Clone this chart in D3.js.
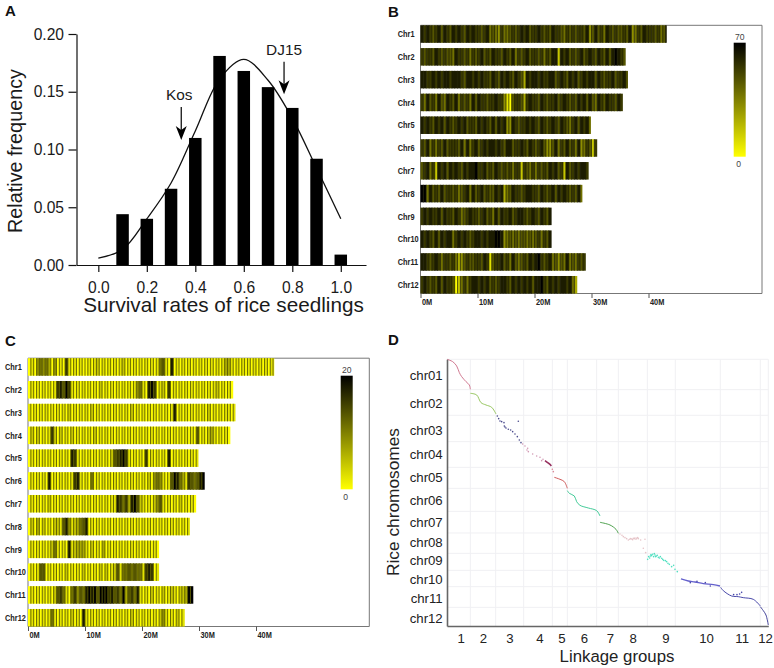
<!DOCTYPE html>
<html><head><meta charset="utf-8">
<script src="https://cdn.jsdelivr.net/npm/d3@7"></script>
<style>
html,body{margin:0;padding:0;background:#fff}
svg{display:block}
text{font-family:"Liberation Sans",Arial,sans-serif}
.nar{font-weight:700}
.soft{filter:blur(0.35px)}
</style></head><body>
<svg id="c" width="774" height="668"></svg>
<script>
// Panel A
const rateBins=[0.1,0.2,0.3,0.4,0.5,0.6,0.7,0.8,0.9,1.0];
const rateFreq=[0.044,0.040,0.066,0.110,0.181,0.168,0.154,0.136,0.092,0.009];
const curveX=[0,0.1,0.2,0.3,0.4,0.5,0.6,0.7,0.8,0.9,1.0];
const curveY=[0.006,0.0135,0.040,0.071,0.116,0.161,0.178,0.160,0.127,0.084,0.040];
const arrowsA=[{name:"Kos",x:0.342,top:0.1368,tip:0.1082},{name:"DJ15",x:0.766,top:0.176,tip:0.1478}];

// Panels B, C: chromosomes and 0.5 Mb density bins (digit 0 = low ... 9 = high)
const chrNames=["Chr1","Chr2","Chr3","Chr4","Chr5","Chr6","Chr7","Chr8","Chr9","Chr10","Chr11","Chr12"];
const chrLen=[43.2,36,36.4,35.5,29.9,31.2,29.6,28.4,23,23.2,29,27.5];
const binsB=[
"8787678687 6878768787 7678565475 5676787867 7876768776 5767677684 6867587676 6768457687 7767568",
"7677687676 6587767576 7867687768 7685767867 7675768828 7867678678 7687686898 76",
"8877878788 7888768878 7877687687 8768763878 8787788678 7687867878 8687677867 786",
"7586758658 7685767586 8776778774 1067763787 7687677867 8767687868 6587687768 7",
"8787687868 7678786776 8787686878 4487677878 7687678768 7657868785",
"7685757686 7776858578 6787887876 8867787687 6786446857 6867584576 27",
"6785728786 8787687889 7786768767 6757727657 5767687867 286787887",
"9958676867 7675678586 7867668783 5687767887 7687678687 8767685",
"7878778687 7687567877 6786758687 7867887678 768768",
"8787686878 8578787678 8787889984 5656566565 675768",
"8876787577 6753467667 7687167786 7586567687 8976785646 58565767",
"7876768687 7602575788 7878676788 7687878786 8897687878 87853"];
const binsC=[
"0104545304 0107101010 0101201010 1012010101 0101015610 8010101010 1010101013 3101010101 0101010",
"0101010101 7869710101 0101020101 0101010145 1089701207 0101010101 0101012010 10",
"1010101010 1010201010 1020101010 1010102010 1010101010 1801010101 0102010101 101",
"0202010172 0201020101 0102010101 0101010101 0101010101 0101010106 0102310101 0",
"0101010101 0101087101 0101010102 6789710101 0701010108 0101010101",
"0101010801 0101017810 1050101010 1010101010 1020454101 6985317656 89",
"0101010201 0101010101 0101010101 1875738962 1010246101 010201010",
"0203020102 2168412356 8010101010 1010101010 1010101010 1010101",
"0101010125 1010812333 1020103010 1010101010 101010",
"0101660101 0102010102 0101020201 2615565655 178701",
"0101010102 6751057465 8989699978 6759367581 0102010201 21022399",
"0101010151 0101020108 1010101010 1010102010 1010102410 10201"];
const mbTicks=[0,10,20,30,40];

// Panel D: synteny positions (linkage map position, physical position)
const lgBounds=[0,70,146,230,316,361,449,514,601,685,820,940,964];
const lgTicks=[41,108,187,277,343,411,489,557,655,777,884,954];
const chrBounds=[0,91,168,247,324,387,456,521,582,633,682,744,800];
const chrTicks=[47,132,212,285,354,424,490,550,604,660,718,778];
const chrLabels=["chr01","chr02","chr03","chr04","chr05","chr06","chr07","chr08","chr09","chr10","chr11","chr12"];
const syn01=[[0,0],[17,7],[29,20],[37,40],[44,52],[57,67],[67,77],[70,90]];
const syn02=[[70,102],[89,107],[102,130],[117,137],[134,144],[147,164]];
const syn03=[[151,170],[155,178],[159,185],[164,187],[171,190],[172,200],[174,203],[177,206],[184,210],[191,212],[197,217],[204,224],[211,232],[217,242],[222,250],[214,186]];
const syn04a=[[227,254],[234,260],[242,267],[240,272],[244,277],[257,284],[269,290],[279,294],[284,304],[288,300]];
const syn04b=[[294,304],[302,310],[309,315],[313,320]];
const syn04c=[[316,330],[319,337]];
const syn05=[[322,354],[339,360],[352,367],[361,387]];
const syn06=[[361,394],[367,402],[382,410],[389,427],[399,438],[424,446],[449,454],[459,470]];
const syn07=[[459,489],[489,497],[507,510],[514,522]];
const syn08=[[519,524],[525,528],[529,532],[534,535],[539,538],[544,542],[548,540],[551,538],[554,539],[557,541],[559,537],[562,538],[564,536],[567,540],[569,537],[572,535],[574,538],[581,542],[594,540],[589,567],[596,580]];
const syn09=[[602,600],[605,592],[608,596],[610,590],[612,586],[614,589],[617,585],[620,592],[622,583],[624,587],[626,592],[628,590],[631,588],[634,594],[637,596],[640,592],[644,597],[647,600],[650,603],[655,604],[659,607],[663,612],[667,615],[674,622],[680,618],[684,630],[691,637]];
const syn10=[[702,659],[724,665],[744,668],[769,673],[799,676],[819,680]];
const syn11=[[821,684],[829,694],[854,710],[874,712],[889,715],[919,720],[940,740]];
const syn12=[[940,742],[949,754],[957,767],[964,797]];
const synExtra=[[884,699],[860,706],[870,706],[878,704],[730,670],[790,680],[750,666],[775,670]];
const synSeries=[
 {d:syn01,c:"#cc6b86",line:1},{d:syn02,c:"#8cbf50",line:1},{d:syn03,c:"#4a4a8c",line:0},
 {d:syn04a,c:"#d29ab4",line:0},{d:syn04b,c:"#96305f",line:1,w:1.6},{d:syn04c,c:"#d98a9a",line:0},
 {d:syn05,c:"#c84848",line:1},{d:syn06,c:"#2ec48c",line:1},
 {d:syn07,c:"#3a963a",line:1},{d:syn08,c:"#e6c4c8",line:0},{d:syn09,c:"#4fe0c0",line:0},
 {d:syn10,c:"#6460cc",line:1,w:1.3},{d:syn11,c:"#34349f",line:1},{d:syn12,c:"#30308f",line:1},
 {d:synExtra,c:"#4444aa",line:0}];

const svg=d3.select("#c");
function letter(t,x,y){svg.append("text").attr("x",x).attr("y",y).attr("font-size",15).attr("font-weight",700).attr("fill","#111").text(t);}
letter("A",5,16);letter("B",388,16.5);letter("C",5,346);letter("D",388,345);

// ---------- A
(function(){
 const x=d3.scaleLinear([-0.09,1.104],[76.5,366]);
 const y=d3.scaleLinear([0,0.2],[265,34]);
 const g=svg.append("g");
 const ln=d3.line().x(d=>x(d[0])).y(d=>y(d[1])).curve(d3.curveCatmullRom.alpha(0.5));
 g.append("path").attr("d",ln(d3.zip(curveX,curveY))).attr("fill","none").attr("stroke","#111").attr("stroke-width",1.3);
 const bw=x(0.0515)-x(0);
 g.selectAll("rect.b").data(d3.zip(rateBins,rateFreq)).join("rect").attr("class","b")
  .attr("x",d=>x(d[0])-bw/2).attr("width",bw).attr("y",d=>y(d[1])).attr("height",d=>y(0)-y(d[1])).attr("fill","#000");
 const ax=g.append("g").attr("transform","translate(0,265)").call(d3.axisBottom(x).tickValues([0,.2,.4,.6,.8,1]).tickFormat(d3.format(".1f")).tickSize(7).tickSizeOuter(0));
 const ay=g.append("g").attr("transform","translate(76.5,0)").call(d3.axisLeft(y).tickValues([0,.05,.1,.15,.2]).tickFormat(d3.format(".2f")).tickSize(8).tickSizeOuter(0));
 [ax,ay].forEach(a=>{a.selectAll("path,line").attr("stroke","#111").attr("stroke-width",1.2);
  a.selectAll("text").attr("font-size",15.6).attr("fill","#1a1a1a").attr("font-family",'"Liberation Sans"');});
 ax.selectAll("text").attr("y",16.5);
 ay.selectAll("text").attr("x",-12.5);
 g.append("text").attr("x",223.5).attr("y",311.5).attr("text-anchor","middle").attr("font-size",20.7).attr("fill","#1a1a1a").text("Survival rates of rice seedlings");
 g.append("text").attr("transform","translate(22,151) rotate(-90)").attr("text-anchor","middle").attr("font-size",19.8).attr("fill","#1a1a1a").text("Relative frequency");
 arrowsA.forEach(a=>{
  const px=x(a.x),t=y(a.top),b=y(a.tip);
  g.append("text").attr("x",px-(a.name==="Kos"?2:0)).attr("y",t-6.5).attr("text-anchor","middle").attr("font-size",15.4).attr("fill","#1a1a1a").text(a.name);
  g.append("line").attr("x1",px).attr("x2",px).attr("y1",t).attr("y2",b-8).attr("stroke","#000").attr("stroke-width",1.2);
  g.append("path").attr("d",`M${px-5.5},${b-14}L${px},${b-10}L${px+5.5},${b-14}L${px},${b}Z`).attr("fill","#000");
 });
})();

// ---------- heat panels
function heat(o){
 const x=d3.scaleLinear([0,(o.right-o.left)/5.7],[o.left,o.right]);
 const y=d3.scaleBand(chrNames,[o.top,o.bottom]).paddingInner(0.2315);
 const col=d3.scaleLinear([0,o.max],["#ffff00","#000000"]);
 const g=svg.append("g");
 g.append("path").attr("d",`M${o.left},${o.top}H${o.right}V${o.bottom}H${o.left}Z`).attr("fill","none").attr("stroke","#777").attr("stroke-width",1);
 chrNames.forEach((n,i)=>{
  const vals=Array.from(o.bins[i].replace(/ /g,""),c=>+c/9*o.max).filter((d,j)=>j*0.5<chrLen[i]);
  const r=g.append("g").attr("class","soft");
  r.selectAll("rect").data(vals).join("rect")
   .attr("x",(d,j)=>x(j*0.5))
   .attr("width",(d,j)=>x(Math.min((j+1)*0.5,chrLen[i]))-x(j*0.5)+(j<vals.length-1?0.35:0))
   .attr("y",y(n)).attr("height",y.bandwidth()).attr("fill",d=>col(d));
  r.selectAll("line").data(vals.slice(0,-1)).join("line")
    .attr("x1",(d,j)=>x((j+1)*0.5)).attr("x2",(d,j)=>x((j+1)*0.5))
    .attr("y1",y(n)).attr("y2",y(n)+y.bandwidth()).attr("stroke",o.sep).attr("stroke-width",o.sepW);
  g.append("text").attr("class","nar").attr("transform",`translate(${o.labelX},${y(n)+y.bandwidth()/2+3.2}) scale(0.82,1)`).attr("font-size",9).attr("fill","#222").text(n);
 });
 const ax=g.append("g").attr("transform",`translate(0,${o.bottom})`).call(d3.axisBottom(x).tickValues(mbTicks).tickFormat(d=>d+"M").tickSize(4.5));
 ax.select(".domain").remove();
 ax.selectAll("line").attr("stroke","#555");
 ax.selectAll("text").attr("class","nar").attr("font-size",9).attr("fill","#222").attr("text-anchor","start")
   .attr("dy",null).attr("y",null).attr("transform","translate(1,11.5) scale(0.82,1)");
 const id="grad"+o.max;
 const grad=svg.append("defs").append("linearGradient").attr("id",id).attr("x1",0).attr("x2",0).attr("y1",1).attr("y2",0);
 grad.selectAll("stop").data([0,1]).join("stop").attr("offset",d=>d).attr("stop-color",d=>col(d*o.max));
 g.append("rect").attr("x",o.lx).attr("y",o.ly0).attr("width",12).attr("height",o.ly1-o.ly0).attr("fill",`url(#${id})`);
 g.append("text").attr("x",o.lx+6).attr("y",o.ly0-2.5).attr("text-anchor","middle").attr("font-size",8.6).attr("fill","#444").text(o.max);
 g.append("text").attr("x",o.lx+5).attr("y",o.ly1+10.5).attr("text-anchor","middle").attr("font-size",8.6).attr("fill","#444").text(0);
}
heat({bins:binsB,max:70,left:420.5,right:762,top:25.3,bottom:293.5,labelX:397.7,lx:733.7,ly0:42.7,ly1:156.7,sep:"#1c1c00",sepW:0.7});
heat({bins:binsC,max:20,left:28,right:369.3,top:358.2,bottom:626.5,labelX:5,lx:340.7,ly0:375.7,ly1:489.3,sep:"#5a5a00",sepW:0.9});

// ---------- D
(function(){
 const x=d3.scaleLinear([0,964],[447,768.3]);
 const y=d3.scaleLinear([0,800],[359.3,626]);
 const g=svg.append("g");
 g.selectAll("line.v").data(lgBounds.slice(1)).join("line").attr("class","v").attr("x1",d=>x(d)).attr("x2",d=>x(d)).attr("y1",y(0)).attr("y2",y(800)).attr("stroke","#f0f0f3").attr("stroke-width",1);
 g.selectAll("line.h").data(chrBounds.slice(0,-1)).join("line").attr("class","h").attr("x1",x(0)).attr("x2",x(964)).attr("y1",d=>y(d)).attr("y2",d=>y(d)).attr("stroke","#f0f0f3").attr("stroke-width",1);
 const ln=d3.line().x(d=>x(d[0])).y(d=>y(d[1])).curve(d3.curveCatmullRom.alpha(0.5));
 synSeries.forEach(s=>{
  if(s.line) g.append("path").attr("d",ln(s.d)).attr("fill","none").attr("stroke",s.c).attr("stroke-width",s.w||0.9);
  else g.append("g").selectAll("circle").data(s.d).join("circle").attr("cx",d=>x(d[0])).attr("cy",d=>y(d[1])).attr("r",0.8).attr("fill",s.c);
 });
 const ax=g.append("g").attr("transform",`translate(0,${y(800)})`).call(d3.axisBottom(x).tickValues(lgTicks).tickFormat((d,i)=>i+1).tickSize(0));
 const ay=g.append("g").attr("transform",`translate(${x(0)},0)`).call(d3.axisLeft(y).tickValues(chrTicks).tickFormat((d,i)=>chrLabels[i]).tickSize(0));
 [ax,ay].forEach(a=>{a.select(".domain").attr("stroke","#666").attr("stroke-width",1.6);
  a.selectAll("text").attr("font-size",13.2).attr("fill","#222").attr("font-family",'"Liberation Sans"');});
 ax.selectAll("text").attr("y",8);
 ay.selectAll("text").attr("x",-4.3);
 g.append("text").attr("x",617).attr("y",661.5).attr("text-anchor","middle").attr("font-size",16.8).attr("fill","#222").text("Linkage groups");
 g.append("text").attr("transform","translate(399,502) rotate(-90)").attr("text-anchor","middle").attr("font-size",17.3).attr("fill","#222").text("Rice chromosomes");
})();
</script></body></html>
